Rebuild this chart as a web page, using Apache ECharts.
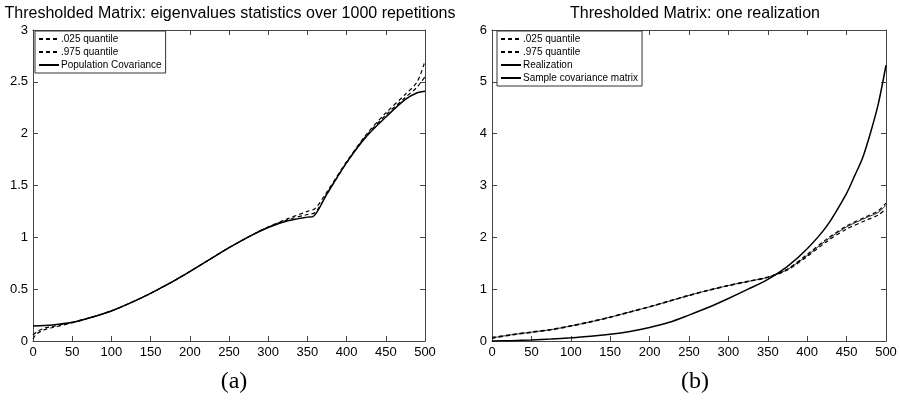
<!DOCTYPE html>
<html>
<head>
<meta charset="utf-8">
<script src="https://cdn.jsdelivr.net/npm/echarts@6/dist/echarts.min.js"></script>
<style>html,body{margin:0;padding:0;background:#fff}#c{width:900px;height:400px}</style>
</head>
<body>
<div id="c"></div>
<script>
// ---- Panel (a) data ----
var xPopA = [0,25,50,75,100,125,150,175,200,225,250,275,300,325,350,357,375,400,425,450,475,490,500];
var popA  = [0.145,0.155,0.18,0.23,0.29,0.37,0.46,0.56,0.67,0.785,0.9,1.005,1.095,1.16,1.195,1.2,1.42,1.72,1.97,2.16,2.33,2.395,2.41];
var xQA   = [0,5,15,25,50,75,100,125,150,175,200,225,250,275,300,325,350,360,375,400,425,450,475,490,500];
var q025A = [0.02,0.07,0.11,0.13,0.175,0.23,0.29,0.37,0.46,0.56,0.67,0.785,0.9,1.005,1.1,1.17,1.22,1.24,1.42,1.72,1.98,2.18,2.35,2.45,2.55];
var q975A = [0.06,0.09,0.125,0.14,0.18,0.23,0.29,0.37,0.46,0.56,0.67,0.785,0.9,1.005,1.1,1.18,1.25,1.28,1.44,1.73,1.99,2.2,2.38,2.5,2.7];
// ---- Panel (b) data ----
var xB     = [0,25,50,75,100,125,150,175,200,225,250,275,300,325,350,375,400,425,450,475,490,500];
var realB  = [0.06,0.12,0.17,0.22,0.29,0.37,0.46,0.56,0.66,0.77,0.88,0.98,1.07,1.15,1.23,1.38,1.65,1.95,2.2,2.38,2.48,2.62];
var q025B  = [0.05,0.115,0.165,0.215,0.285,0.365,0.455,0.555,0.655,0.765,0.875,0.975,1.065,1.145,1.225,1.37,1.63,1.92,2.16,2.33,2.43,2.55];
var q975B  = [0.07,0.125,0.175,0.225,0.295,0.375,0.465,0.565,0.665,0.775,0.885,0.985,1.075,1.155,1.235,1.39,1.67,1.97,2.22,2.4,2.51,2.66];
var xS     = [0,25,50,75,100,125,150,175,200,225,250,275,300,325,350,375,400,425,450,460,470,480,490,500];
var sampB  = [0.0,0.006,0.02,0.038,0.062,0.09,0.13,0.185,0.26,0.36,0.5,0.65,0.82,1.0,1.19,1.44,1.78,2.22,2.85,3.18,3.52,4.0,4.56,5.32];
// ---- Text ----
var titleA = 'Thresholded Matrix: eigenvalues statistics over 1000 repetitions';
var titleB = 'Thresholded Matrix: one realization';
var legendA = ['.025 quantile','.975 quantile','Population Covariance'];
var legendB = ['.025 quantile','.975 quantile','Realization','Sample covariance matrix'];

function pairs(xs, ys){ return xs.map(function(x,i){ return [x, ys[i]]; }); }

var axisCol = '#444';
function xAx(g, pos, show){
  return {type:'value', gridIndex:g, position:pos, min:0, max:500, interval:50,
    axisLine:{show:true, onZero:false, lineStyle:{color:axisCol, width:1}},
    axisTick:{show:true, inside:true, length:5, lineStyle:{color:axisCol}},
    axisLabel:{show:show, color:'#000', fontSize:13, fontFamily:'Liberation Sans', margin:5},
    splitLine:{show:false}};
}
function yAx(g, pos, show, max, iv){
  return {type:'value', gridIndex:g, position:pos, min:0, max:max, interval:iv,
    axisLine:{show:true, onZero:false, lineStyle:{color:axisCol, width:1}},
    axisTick:{show:true, inside:true, length:5, lineStyle:{color:axisCol}},
    axisLabel:{show:show, color:'#000', fontSize:13, fontFamily:'Liberation Sans', margin:5},
    splitLine:{show:false}};
}
function ser(name, xi, yi, data, type, width){
  return {name:name, type:'line', xAxisIndex:xi, yAxisIndex:yi, data:data,
    symbol:'none', smooth:0.3, animation:false,
    lineStyle:{color:'#000', width:width, type:type==='dashed'?[4,3]:'solid'},
    itemStyle:{color:'#000'}};
}
function leg(data, left){
  return {data:data, orient:'vertical', left:left, top:31, itemWidth:20, itemHeight:8, itemGap:3,
    padding:[3,4,3,3], borderColor:'#333', borderWidth:1, backgroundColor:'#fff', selectedMode:false,
    itemStyle:{opacity:0},
    textStyle:{fontSize:10, color:'#000', fontFamily:'Liberation Sans', padding:[0,0,0,-3]}};
}

var chart = echarts.init(document.getElementById('c'));
chart.setOption({
  backgroundColor:'#fff',
  animation:false,
  title:[
    {text:titleA, left:225, top:1, textAlign:'center', textStyle:{fontSize:16, fontWeight:'normal', color:'#000', fontFamily:'Liberation Sans'}},
    {text:titleB, left:690, top:1, textAlign:'center', textStyle:{fontSize:16, fontWeight:'normal', color:'#000', fontFamily:'Liberation Sans'}},
    {text:'(a)', left:229, top:365, textAlign:'center', textStyle:{fontSize:24, fontWeight:'normal', color:'#000', fontFamily:'Liberation Serif'}},
    {text:'(b)', left:690, top:365, textAlign:'center', textStyle:{fontSize:24, fontWeight:'normal', color:'#000', fontFamily:'Liberation Serif'}}
  ],
  grid:[
    {left:33, right:475, top:30, bottom:59},
    {left:492, right:14, top:30, bottom:59}
  ],
  xAxis:[xAx(0,'bottom',true), xAx(0,'top',false), xAx(1,'bottom',true), xAx(1,'top',false)],
  yAxis:[yAx(0,'left',true,3,0.5), yAx(0,'right',false,3,0.5), yAx(1,'left',true,6,1), yAx(1,'right',false,6,1)],
  legend:[leg(legendA, 35), leg(legendB, 497)],
  series:[
    ser('.025 quantile',0,0,pairs(xQA,q025A),'dashed',1.2),
    ser('.975 quantile',0,0,pairs(xQA,q975A),'dashed',1.2),
    ser('Population Covariance',0,0,pairs(xPopA,popA),'solid',1.5),
    ser('.025 quantile',2,2,pairs(xB,q025B),'dashed',1.2),
    ser('.975 quantile',2,2,pairs(xB,q975B),'dashed',1.2),
    ser('Realization',2,2,pairs(xB,realB),'solid',0.8),
    ser('Sample covariance matrix',2,2,pairs(xS,sampB),'solid',1.5)
  ]
});
</script>
</body>
</html>
